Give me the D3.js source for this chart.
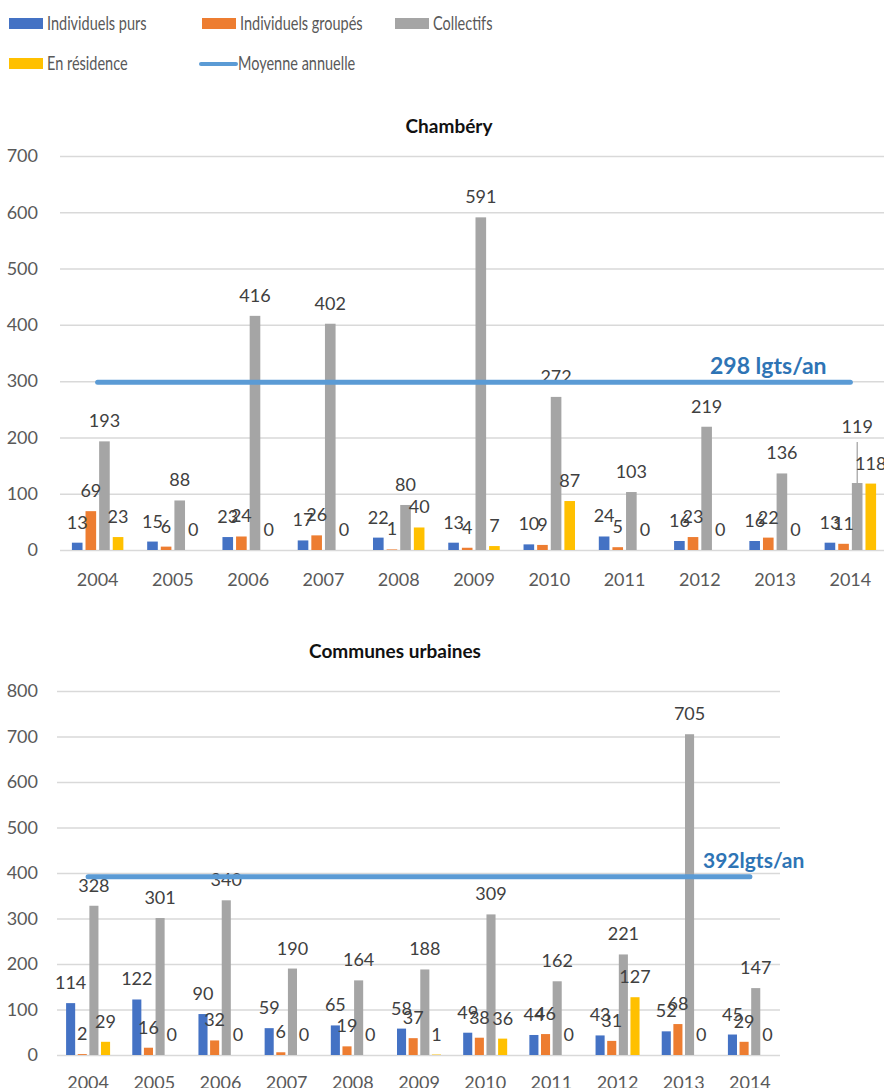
<!DOCTYPE html>
<html>
<head>
<meta charset="utf-8">
<script src="https://cdn.jsdelivr.net/npm/d3@7"></script>
<style>
  html, body { margin: 0; padding: 0; background: #fff; }
  svg { display: block; font-family: Lato, "Open Sans", sans-serif; }
</style>
</head>
<body>
<svg id="chart" width="884" height="1088"></svg>
<script>
// ---- Data ----
const years = ["2004", "2005", "2006", "2007", "2008", "2009", "2010", "2011", "2012", "2013", "2014"];
const seriesNames = ["Individuels purs", "Individuels groupés", "Collectifs", "En résidence"];
const meanLegendLabel = "Moyenne annuelle";

// Chambéry
const chamberyPurs      = [13, 15, 23, 17, 22, 13, 10, 24, 16, 16, 13];
const chamberyGroupes   = [69, 6, 24, 26, 1, 4, 9, 5, 23, 22, 11];
const chamberyCollectifs = [193, 88, 416, 402, 80, 591, 272, 103, 219, 136, 119];
const chamberyResidence = [23, 0, 0, 0, 40, 7, 87, 0, 0, 0, 118];
const chamberyMean = 298;
const chamberyMeanLabel = "298 lgts/an";
const chamberyTicks = [0, 100, 200, 300, 400, 500, 600, 700];

// Communes urbaines
const urbainesPurs      = [114, 122, 90, 59, 65, 58, 49, 44, 43, 52, 45];
const urbainesGroupes   = [2, 16, 32, 6, 19, 37, 38, 46, 31, 68, 29];
const urbainesCollectifs = [328, 301, 340, 190, 164, 188, 309, 162, 221, 705, 147];
const urbainesResidence = [29, 0, 0, 0, 0, 1, 36, 0, 127, 0, 0];
const urbainesMean = 392;
const urbainesMeanLabel = "392lgts/an";
const urbainesTicks = [0, 100, 200, 300, 400, 500, 600, 700, 800];

// ---- Style ----
const colors = ["#4472C4", "#ED7D31", "#A5A5A5", "#FFC000"];
const meanColor = "#5B9BD5";
const meanTextColor = "#2E74B5";
const gridColor = "#D9D9D9";
const axisTextColor = "#595959";
const labelColor = "#404040";

const svg = d3.select("#chart");

// ---- Legend ----
const legend = svg.append("g").attr("class", "legend");
const legendItems = [
  { name: seriesNames[0], color: colors[0], x: 9, y: 24, type: "rect" },
  { name: seriesNames[1], color: colors[1], x: 202, y: 24, type: "rect" },
  { name: seriesNames[2], color: colors[2], x: 395, y: 24, type: "rect" },
  { name: seriesNames[3], color: colors[3], x: 9, y: 64, type: "rect" },
  { name: meanLegendLabel, color: meanColor, x: 200, y: 64, type: "line" }
];
legendItems.forEach(d => {
  const g = legend.append("g").attr("transform", `translate(${d.x},${d.y})`);
  if (d.type === "rect") {
    g.append("rect").attr("x", 0).attr("y", -6).attr("width", 34).attr("height", 11).attr("fill", d.color);
  } else {
    g.append("line").attr("x1", 1).attr("x2", 36).attr("y1", 0).attr("y2", 0)
      .attr("stroke", d.color).attr("stroke-width", 4).attr("stroke-linecap", "round");
  }
  // legend text is set in a tall, narrow face: condensed size, stretched vertically
  g.append("text").attr("transform", "translate(38,5.5) scale(1,1.3)")
    .attr("font-size", 14.5).attr("fill", axisTextColor).text(d.name);
});

// ---- Charts ----
const charts = [
  {
    title: "Chambéry", titleX: 449, titleY: 133,
    values: [chamberyPurs, chamberyGroupes, chamberyCollectifs, chamberyResidence],
    mean: chamberyMean, meanLabel: chamberyMeanLabel, meanLabelX: 710, meanLabelY: 374, meanFont: 23,
    ticks: chamberyTicks,
    xRange: [60, 888], gridRange: [60, 884], yRange: [550, 156],
    padInner: 0.28, padOuter: 0.14, yearOffset: 36, tickPad: 22,
    lifted: { "2014|Collectifs": 36 }
  },
  {
    title: "Communes urbaines", titleX: 395, titleY: 658,
    values: [urbainesPurs, urbainesGroupes, urbainesCollectifs, urbainesResidence],
    mean: urbainesMean, meanLabel: urbainesMeanLabel, meanLabelX: 703, meanLabelY: 868, meanFont: 21,
    ticks: urbainesTicks,
    xRange: [55, 783], gridRange: [57, 780], yRange: [1055, 691],
    padInner: 0.3, padOuter: 0.15, yearOffset: 34, tickPad: 19,
    lifted: {}
  }
];

charts.forEach(c => {
  const g = svg.append("g");
  const yMax = c.ticks[c.ticks.length - 1];
  const y = d3.scaleLinear().domain([0, yMax]).range(c.yRange);
  const x0 = d3.scaleBand().domain(years).range(c.xRange)
    .paddingInner(c.padInner).paddingOuter(c.padOuter);
  const x1 = d3.scaleBand().domain(seriesNames).range([0, x0.bandwidth()])
    .paddingInner(0.22).paddingOuter(0.1);

  // Title
  g.append("text").attr("x", c.titleX).attr("y", c.titleY)
    .attr("text-anchor", "middle").attr("font-size", 19).attr("font-weight", "bold")
    .attr("fill", "#111").text(c.title);

  // Y axis with gridlines
  const yAxis = g.append("g").attr("transform", `translate(${c.gridRange[0]},0)`)
    .call(d3.axisLeft(y).tickValues(c.ticks)
      .tickSize(-(c.gridRange[1] - c.gridRange[0])).tickPadding(c.tickPad));
  yAxis.select(".domain").remove();
  yAxis.selectAll(".tick line").attr("stroke", gridColor).attr("stroke-width", 1.5);
  yAxis.selectAll(".tick text").attr("fill", axisTextColor)
    .attr("font-size", 18).attr("font-family", "Lato, sans-serif");

  // X axis (year labels)
  const xAxis = g.append("g").attr("transform", `translate(0,${c.yRange[0]})`)
    .call(d3.axisBottom(x0).tickSize(0));
  xAxis.select(".domain").remove();
  xAxis.selectAll(".tick text").attr("y", c.yearOffset).attr("dy", null)
    .attr("fill", axisTextColor).attr("font-size", 18).attr("font-family", "Lato, sans-serif");

  // Bars
  const rows = years.map((yr, i) => ({
    year: yr,
    items: seriesNames.map((s, k) => ({ year: yr, series: s, k: k, value: c.values[k][i] }))
  }));
  const groups = g.append("g").selectAll("g").data(rows).join("g")
    .attr("transform", d => `translate(${x0(d.year)},0)`);
  groups.selectAll("rect").data(d => d.items).join("rect")
    .attr("x", d => x1(d.series))
    .attr("width", x1.bandwidth())
    .attr("y", d => y(d.value))
    .attr("height", d => y(0) - y(d.value))
    .attr("fill", d => colors[d.k]);

  // Mean line
  const mx1 = x0(years[0]) + x0.bandwidth() / 2;
  const mx2 = x0(years[years.length - 1]) + x0.bandwidth() / 2;
  g.append("line").attr("x1", mx1).attr("x2", mx2)
    .attr("y1", y(c.mean)).attr("y2", y(c.mean))
    .attr("stroke", meanColor).attr("stroke-width", 5).attr("stroke-linecap", "round");

  // Value labels
  const labelGap = 14;
  groups.each(function(row) {
    const gg = d3.select(this);
    row.items.forEach(d => {
      const cx = x1(d.series) + x1.bandwidth() / 2;
      const lift = c.lifted[d.year + "|" + d.series] || 0;
      const by = y(d.value) - labelGap - lift;
      if (lift) {
        gg.append("line").attr("x1", cx).attr("x2", cx)
          .attr("y1", by + 9).attr("y2", y(d.value))
          .attr("stroke", "#8C8C8C").attr("stroke-width", 1);
      }
      gg.append("text").attr("x", cx).attr("y", by)
        .attr("text-anchor", "middle").attr("font-size", 18)
        .attr("fill", labelColor).text(d.value);
    });
  });

  // Mean label
  g.append("text").attr("x", c.meanLabelX).attr("y", c.meanLabelY)
    .attr("font-size", c.meanFont).attr("font-weight", "bold")
    .attr("fill", meanTextColor).text(c.meanLabel);
});
</script>
</body>
</html>
